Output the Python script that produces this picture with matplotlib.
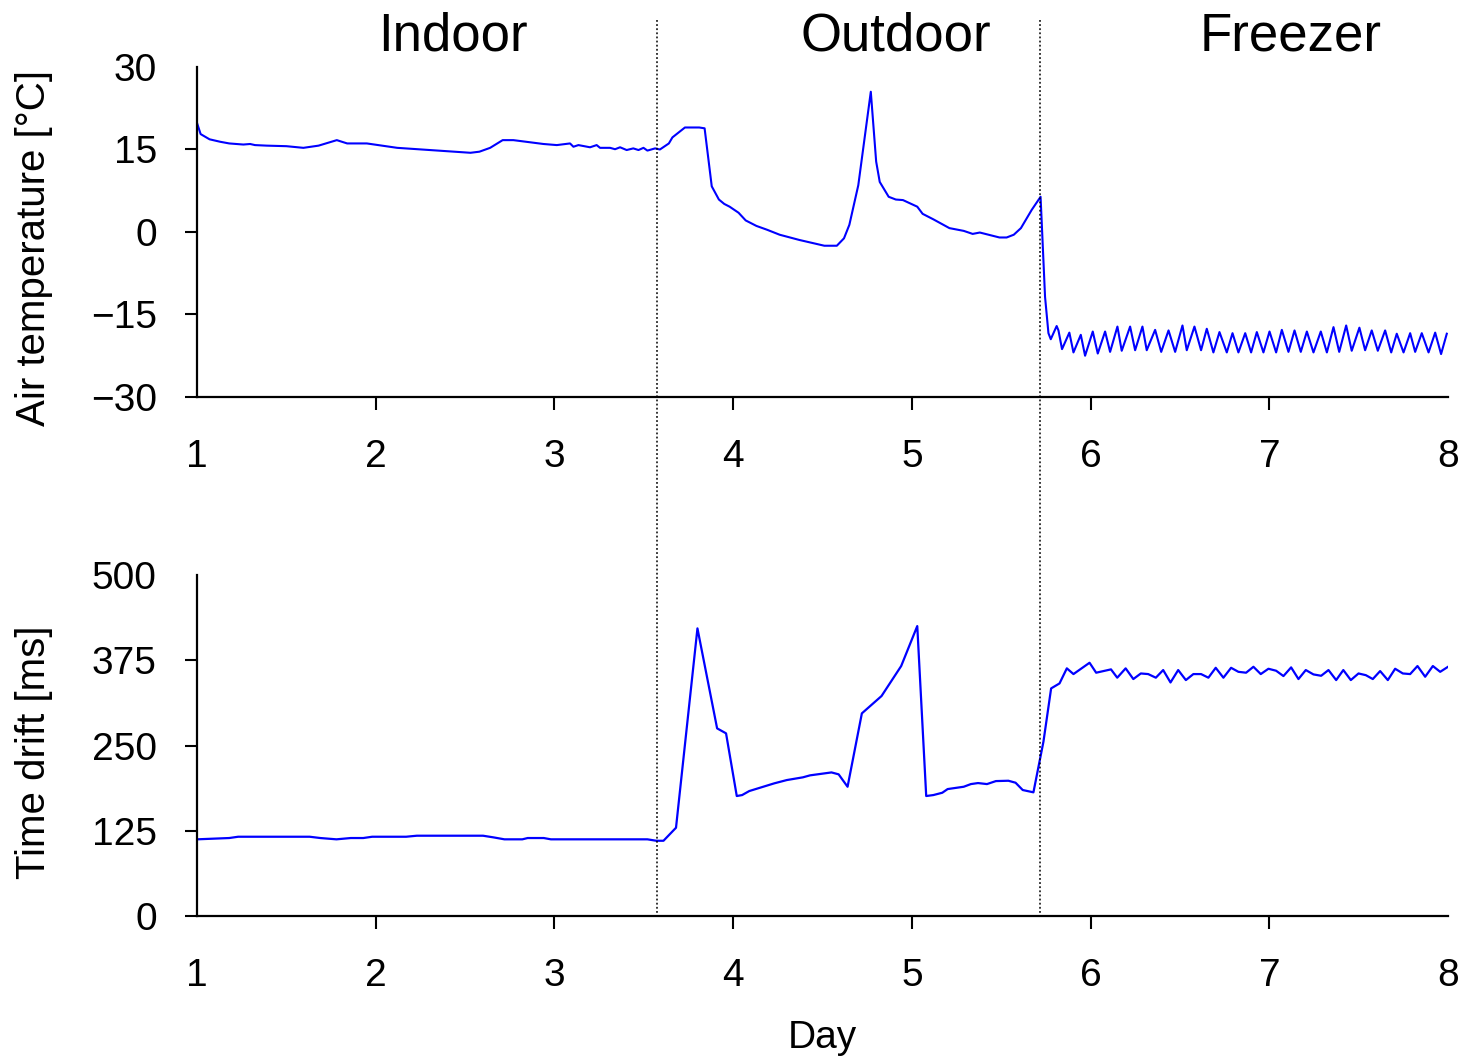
import matplotlib
matplotlib.use('Agg')
import matplotlib.pyplot as plt
from matplotlib.lines import Line2D
from matplotlib.transforms import blended_transform_factory

plt.rcParams['font.family'] = ['Liberation Sans', 'DejaVu Sans']

# air temperature [°C] vs day
temp_day = [1.00, 1.02, 1.07, 1.13, 1.18, 1.259, 1.297, 1.324, 1.39, 1.50, 1.595, 1.68, 1.782, 1.84, 1.95,
            2.12, 2.30, 2.53, 2.58, 2.64, 2.71, 2.77, 2.938, 3.013, 3.087, 3.106, 3.134, 3.199, 3.236,
            3.255, 3.311, 3.339, 3.367, 3.404, 3.441, 3.470, 3.498, 3.520, 3.563,
            3.59, 3.64, 3.66, 3.73, 3.81, 3.84, 3.88, 3.92, 3.95, 3.98, 4.03, 4.07, 4.13, 4.19,
            4.26, 4.37, 4.51, 4.58, 4.62, 4.65, 4.70, 4.77, 4.80, 4.82, 4.87, 4.91, 4.95, 5.03,
            5.06, 5.12, 5.21, 5.29, 5.34, 5.38, 5.49, 5.53, 5.57, 5.61, 5.67, 5.72,
            5.745, 5.764, 5.777, 5.81, 5.82, 5.84,
            5.881, 5.904, 5.945, 5.969, 6.012, 6.040, 6.081, 6.109, 6.150, 6.174, 6.221, 6.249,
            6.290, 6.314, 6.361, 6.395, 6.436, 6.473, 6.514, 6.538, 6.581, 6.618, 6.650, 6.687,
            6.721, 6.762, 6.794, 6.827, 6.865, 6.898, 6.930, 6.967, 7.001, 7.038, 7.070, 7.107,
            7.141, 7.176, 7.210, 7.247, 7.288, 7.322, 7.359, 7.391, 7.430, 7.461, 7.504, 7.536,
            7.573, 7.607, 7.648, 7.682, 7.713, 7.751, 7.788, 7.816, 7.853, 7.891, 7.928, 7.961,
            7.993]
temp_val = [19.8, 17.8, 16.85, 16.4, 16.1, 15.9, 16.0, 15.8, 15.7, 15.6, 15.3, 15.7, 16.7, 16.1, 16.1,
            15.3, 14.9, 14.4, 14.6, 15.3, 16.7, 16.7, 16.0, 15.8, 16.1, 15.5, 15.8, 15.4, 15.8,
            15.3, 15.3, 15.05, 15.4, 14.9, 15.2, 14.9, 15.3, 14.8, 15.2,
            15.0, 16.1, 17.2, 19.0, 19.0, 18.85, 8.3, 5.9, 5.1, 4.6, 3.5, 2.1, 1.1, 0.4,
            -0.5, -1.45, -2.5, -2.5, -1.15, 1.3, 8.5, 25.5, 12.8, 9.1, 6.4, 5.9, 5.8, 4.6,
            3.3, 2.3, 0.7, 0.2, -0.35, -0.1, -1.0, -1.0, -0.5, 0.7, 4.0, 6.4,
            -11.8, -18.4, -19.5, -17.1, -17.9, -21.3,
            -18.3, -21.9, -18.7, -22.5, -18.1, -22.1, -18.1, -21.8, -17.2, -21.6, -17.2, -21.5,
            -17.2, -21.5, -17.8, -21.8, -17.9, -21.8, -17.0, -21.5, -17.2, -21.5, -17.6, -21.9,
            -18.2, -21.9, -18.4, -21.9, -18.4, -21.9, -18.2, -21.9, -18.1, -21.9, -17.8, -21.8,
            -17.9, -21.8, -18.1, -21.9, -18.1, -21.9, -17.3, -21.8, -17.0, -21.6, -17.4, -21.5,
            -17.9, -21.6, -17.9, -21.9, -18.5, -21.9, -18.4, -21.8, -18.4, -21.9, -18.3, -22.2,
            -18.5]

# time drift [ms] vs day
drift_day = [1.00, 1.18, 1.23, 1.63, 1.69, 1.78, 1.86, 1.93, 1.98, 2.17, 2.23, 2.60, 2.66,
             2.72, 2.82, 2.85, 2.94, 2.98, 3.52, 3.57, 3.61, 3.68, 3.80, 3.91, 3.96, 4.02,
             4.05, 4.09, 4.23, 4.30, 4.39, 4.43, 4.55, 4.59, 4.64, 4.72, 4.83, 4.94, 5.03,
             5.08, 5.12, 5.17, 5.20, 5.29, 5.33, 5.37, 5.42, 5.47, 5.54, 5.58, 5.62, 5.68,
             5.736, 5.779, 5.826, 5.867, 5.904, 5.994, 6.031, 6.114, 6.149, 6.196, 6.239,
             6.281, 6.322, 6.365, 6.406, 6.447, 6.490, 6.533, 6.575, 6.618, 6.659, 6.700,
             6.743, 6.786, 6.827, 6.870, 6.911, 6.952, 6.995, 7.038, 7.079, 7.122, 7.163,
             7.204, 7.247, 7.290, 7.331, 7.374, 7.414, 7.456, 7.499, 7.540, 7.579, 7.620,
             7.663, 7.704, 7.747, 7.788, 7.829, 7.872, 7.915, 7.956, 8.0]
drift_val = [112.5, 114.4, 116.3, 116.3, 114.4, 112.5, 114.4, 114.4, 116.3, 116.3, 117.8,
             117.8, 115.3, 112.5, 112.5, 114.4, 114.4, 112.5, 112.5, 110.4, 110.4, 129.5,
             421.8, 275.2, 267.9, 176.0, 177.4, 183.3, 194.6, 199.4, 203.4, 206.3, 210.6,
             207.8, 189.6, 297.2, 322.6, 366.6, 425.2, 176.0, 177.4, 180.8, 186.2, 189.6,
             193.5, 195.0, 193.5, 197.9, 198.4, 195.5, 184.8, 181.4,
             255.6, 333.8, 341.1, 363.2, 354.8, 371.4, 356.8, 361.7, 349.5, 363.2, 347.5,
             355.7, 354.8, 349.5, 360.7, 342.5, 360.7, 346.0, 354.8, 354.8, 349.5, 364.0,
             349.5, 364.0, 358.1, 356.8, 365.5, 354.8, 362.6, 359.7, 351.9, 364.6, 347.5,
             360.7, 354.3, 352.3, 360.7, 346.0, 360.7, 346.0, 355.7, 353.2, 347.5, 359.2,
             346.0, 362.6, 355.7, 354.8, 366.6, 350.9, 366.6, 358.1, 365.5]

phase_names = ['Indoor', 'Outdoor', 'Freezer']
phase_label_day = [2.43, 4.91, 7.12]
phase_bounds = [3.574, 5.717]

days = [1, 2, 3, 4, 5, 6, 7, 8]
temp_ticks = [-30, -15, 0, 15, 30]
drift_ticks = [0, 125, 250, 375, 500]

fig = plt.figure(figsize=(14.64, 10.60), dpi=100)
ax1 = fig.add_axes([0.1346, 0.6255, 0.8545, 0.3113])
ax2 = fig.add_axes([0.1346, 0.1358, 0.8545, 0.3217])

ax1.plot(temp_day, temp_val, color='#0000ff', lw=1.5)
ax2.plot(drift_day, drift_val, color='#0000ff', lw=1.6)

for ax, yt in [(ax1, temp_ticks), (ax2, drift_ticks)]:
    ax.set_xlim(1, 8)
    ax.set_ylim(yt[0], yt[-1])
    ax.set_xticks(days)
    ax.set_yticks(yt)
    for s in ['top', 'right']:
        ax.spines[s].set_visible(False)
    for s in ['left', 'bottom']:
        ax.spines[s].set_linewidth(1.6)
    ax.tick_params(axis='both', direction='out', length=9, width=1.5, labelsize=28)
    ax.tick_params(axis='x', pad=21)
    ax.tick_params(axis='y', pad=20)
    # no tick marks at the corners / top
    xt = ax.xaxis.get_major_ticks()
    xt[0].tick1line.set_visible(False)
    xt[-1].tick1line.set_visible(False)
    ax.yaxis.get_major_ticks()[-1].tick1line.set_visible(False)

ax1.set_ylabel('Air temperature [°C]', fontsize=29)
ax1.yaxis.set_label_coords(-0.115, 0.45)
ax2.set_ylabel('Time drift [ms]', fontsize=29)
ax2.yaxis.set_label_coords(-0.115, 0.48)
ax2.set_xlabel('Day', fontsize=28)
ax2.xaxis.set_label_coords(0.5, -0.305)

# phase names above the top panel
for name, d in zip(phase_names, phase_label_day):
    ax1.text(d, 1.05, name, transform=blended_transform_factory(ax1.transData, ax1.transAxes),
             ha='center', va='baseline', fontsize=38)

# dotted separators through both panels
trans = blended_transform_factory(ax1.transData, fig.transFigure)
for b in phase_bounds:
    fig.add_artist(Line2D([b, b], [0.981, 0.136], transform=trans, color='black',
                          lw=1.1, linestyle=(0, (1.2, 1.5))))

fig.savefig('out.png', dpi=100)
